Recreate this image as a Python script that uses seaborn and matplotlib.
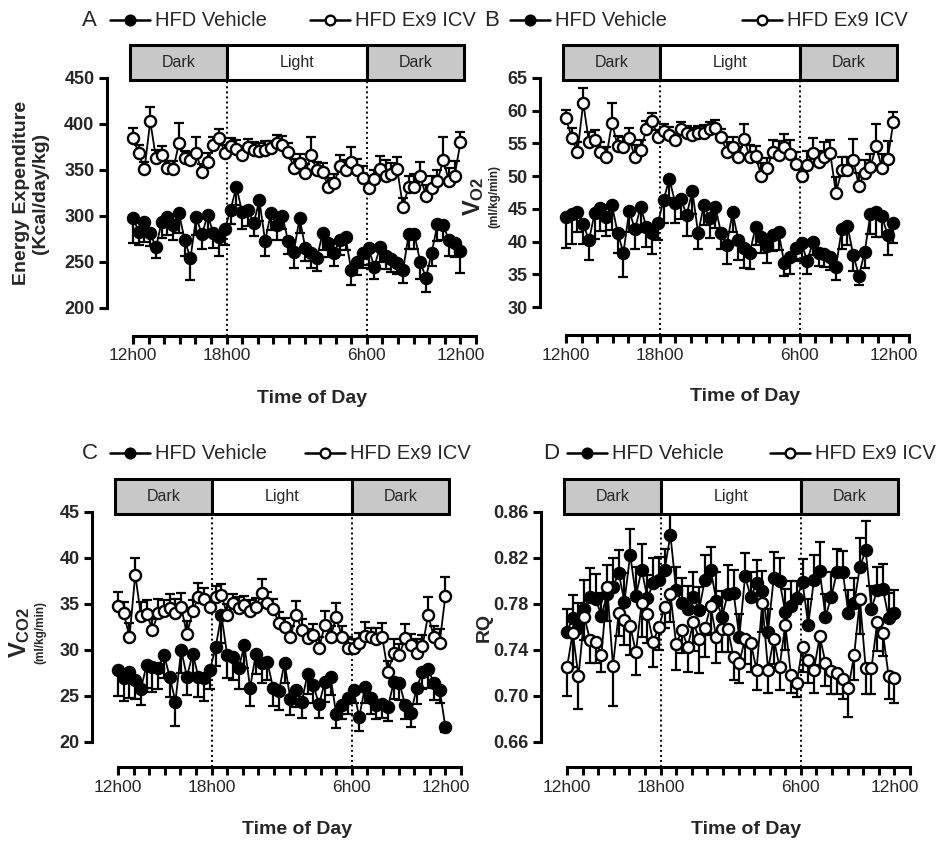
import matplotlib
matplotlib.use("Agg")
import matplotlib.pyplot as plt
from matplotlib.lines import Line2D
from matplotlib.patches import Rectangle
import numpy as np
import seaborn as sns

# ---- data (58 samples per series) ----
N_SAMPLES = 58
HOUR_LABELS = {0: "12h00", 6: "18h00", 15: "6h00", 21: "12h00"}

ee_vehicle = [298, 283, 294, 281, 266, 294, 299, 290, 303, 274,
              254, 299, 280, 301, 281, 277, 286, 307, 332, 304,
              307, 292, 317, 273, 303, 290, 300, 273, 261, 298,
              265, 260, 254, 281, 271, 260, 274, 277, 241, 250,
              260, 265, 245, 266, 256, 253, 249, 241, 280, 280,
              250, 233, 260, 291, 290, 274, 271, 262]
ee_vehicle_sem = [27, 15, 22, 14, 12, 18, 20, 16, 22, 18,
                  24, 20, 16, 22, 16, 20, 18, 16, 20, 18,
                  18, 14, 22, 16, 18, 16, 14, 14, 18, 16,
                  14, 16, 14, 18, 16, 14, 16, 14, 16, 14,
                  16, 18, 14, 16, 14, 14, 12, 14, 16, 16,
                  18, 16, 14, 18, 16, 18, 16, 24]
ee_ex9 = [385, 368, 351, 403, 363, 366, 352, 351, 379, 363,
          361, 368, 348, 359, 377, 385, 369, 376, 373, 366,
          375, 372, 371, 372, 374, 379, 377, 370, 352, 358,
          347, 366, 350, 348, 332, 336, 354, 350, 359, 350,
          341, 330, 340, 351, 343, 346, 351, 310, 332, 332,
          343, 322, 330, 338, 361, 338, 344, 380]
ee_ex9_sem = [11, 9, 8, 15, 9, 10, 8, 9, 22, 8,
              9, 18, 8, 10, 9, 10, 8, 9, 10, 8,
              9, 8, 8, 9, 8, 9, 10, 9, 10, 9,
              10, 20, 9, 10, 9, 10, 12, 11, 16, 12,
              13, 9, 10, 14, 18, 12, 13, 10, 12, 14,
              16, 12, 14, 12, 25, 14, 16, 11]

vo2_vehicle = [43.8, 44.2, 44.5, 42.7, 40.2, 44.4, 45.1, 43.8, 45.6, 41.3,
               38.3, 44.7, 41.9, 45.3, 42.2, 41.3, 42.8, 46.4, 49.6, 45.9,
               46.5, 44.1, 47.7, 41.3, 45.6, 43.6, 45.3, 41.3, 39.5, 44.5,
               40.2, 39.0, 38.3, 42.2, 40.7, 39.3, 41.0, 41.5, 36.7, 37.6,
               39.0, 39.8, 37.0, 40.0, 38.3, 38.1, 37.6, 36.1, 41.9, 42.4,
               38.0, 34.8, 38.4, 44.2, 44.5, 43.9, 41.0, 42.8]
vo2_vehicle_sem = [4.8, 4.5, 3.0, 3.0, 3.0, 4.0, 3.5, 3.0, 3.8, 3.0,
                   3.7, 3.2, 3.0, 3.8, 3.0, 3.2, 2.5, 3.5, 3.0, 3.0,
                   3.0, 3.2, 3.5, 2.5, 3.0, 3.0, 3.2, 2.5, 3.0, 3.0,
                   3.0, 3.0, 2.5, 2.8, 2.5, 2.5, 2.5, 2.8, 2.0, 2.5,
                   2.0, 2.5, 2.0, 2.0, 2.0, 2.0, 2.0, 2.0, 3.0, 3.0,
                   2.5, 1.5, 2.5, 3.0, 3.8, 3.2, 3.0, 3.0]
vo2_ex9 = [58.9, 55.8, 53.7, 61.2, 55.2, 55.5, 53.7, 52.9, 58.1, 54.6,
           54.5, 55.8, 52.9, 54.0, 57.2, 58.4, 56.0, 56.9, 56.3, 55.5,
           57.2, 56.6, 56.3, 56.6, 56.6, 57.2, 57.4, 56.0, 53.7, 54.5,
           52.9, 55.7, 52.9, 53.1, 50.0, 51.2, 53.7, 53.2, 54.5, 53.4,
           51.9, 50.0, 51.7, 53.5, 52.1, 52.9, 53.5, 47.4, 50.9, 50.9,
           52.5, 48.5, 50.5, 51.4, 54.6, 51.2, 52.6, 58.3]
vo2_ex9_sem = [1.2, 1.5, 1.5, 2.3, 1.5, 1.5, 1.5, 1.5, 3.1, 1.5,
               1.5, 1.5, 1.8, 1.5, 1.2, 1.2, 1.0, 1.0, 1.2, 1.0,
               1.0, 1.0, 1.0, 1.0, 1.2, 1.0, 1.2, 1.2, 1.5, 1.5,
               1.5, 2.3, 1.8, 1.5, 2.0, 1.5, 1.8, 2.2, 2.0, 2.2,
               1.8, 1.8, 2.2, 2.3, 1.8, 2.3, 2.0, 2.5, 2.0, 2.0,
               3.2, 2.0, 2.0, 2.0, 3.3, 2.2, 2.8, 1.5]

vco2_vehicle = [27.8, 27.0, 27.6, 26.7, 25.8, 28.4, 28.2, 28.0, 29.5, 27.1,
                24.4, 30.0, 27.1, 29.6, 27.1, 27.0, 27.8, 30.3, 33.8, 29.5,
                29.2, 28.0, 30.5, 25.9, 29.6, 28.6, 28.7, 25.9, 25.5, 28.6,
                24.7, 25.6, 24.4, 27.4, 26.2, 24.1, 26.5, 27.1, 23.0, 24.0,
                24.8, 25.7, 22.7, 26.0, 24.8, 24.0, 24.1, 23.8, 26.5, 26.4,
                24.0, 23.1, 25.9, 27.6, 27.9, 26.4, 25.7, 21.6]
vco2_vehicle_sem = [2.8, 2.5, 2.8, 2.0, 1.8, 2.5, 2.8, 2.2, 2.5, 2.2,
                    2.7, 2.5, 2.0, 2.5, 2.2, 2.5, 2.0, 2.0, 3.0, 2.5,
                    2.5, 2.2, 2.5, 2.0, 2.2, 2.2, 2.0, 2.0, 2.0, 2.2,
                    1.8, 1.8, 1.8, 2.2, 2.0, 1.5, 2.2, 2.0, 1.5, 1.5,
                    1.8, 1.5, 1.5, 1.8, 1.8, 1.5, 1.5, 1.5, 1.8, 1.8,
                    1.5, 1.5, 1.8, 1.8, 2.0, 1.8, 1.5, 0.5]
vco2_ex9 = [34.8, 34.0, 31.4, 38.2, 33.7, 33.9, 32.2, 34.0, 34.2, 34.6,
            34.0, 34.7, 31.7, 34.2, 35.8, 35.5, 34.7, 35.8, 36.0, 33.8,
            35.1, 34.6, 34.9, 34.2, 34.7, 36.2, 35.1, 34.5, 32.9, 32.5,
            31.4, 33.8, 32.2, 31.3, 31.6, 30.2, 32.7, 31.4, 33.6, 31.4,
            30.2, 30.2, 30.8, 31.5, 31.4, 31.2, 31.4, 27.6, 29.7, 29.5,
            31.3, 30.5, 29.7, 30.4, 33.8, 31.4, 30.8, 35.9]
vco2_ex9_sem = [1.5, 1.2, 1.5, 1.8, 1.5, 1.5, 1.2, 1.5, 1.2, 1.5,
                1.5, 1.5, 1.5, 1.2, 1.5, 1.2, 1.0, 1.2, 1.2, 1.2,
                1.0, 1.2, 1.0, 1.2, 1.0, 1.5, 1.2, 1.0, 1.2, 1.0,
                1.2, 1.5, 1.2, 1.0, 1.2, 1.2, 1.5, 1.2, 1.5, 1.2,
                1.2, 1.0, 1.0, 1.5, 1.0, 1.2, 1.5, 1.2, 1.5, 1.2,
                1.5, 1.2, 1.5, 1.2, 2.0, 1.2, 1.5, 2.0]

rq_vehicle = [0.756, 0.768, 0.759, 0.776, 0.786, 0.784, 0.770, 0.789, 0.795, 0.807,
              0.782, 0.823, 0.787, 0.810, 0.785, 0.798, 0.801, 0.810, 0.840, 0.792,
              0.781, 0.776, 0.786, 0.775, 0.801, 0.810, 0.783, 0.769, 0.789, 0.790,
              0.751, 0.804, 0.786, 0.798, 0.791, 0.756, 0.803, 0.800, 0.773, 0.778,
              0.785, 0.799, 0.762, 0.801, 0.809, 0.769, 0.786, 0.808, 0.808, 0.772,
              0.781, 0.812, 0.827, 0.776, 0.792, 0.793, 0.768, 0.772]
rq_vehicle_sem = [0.020, 0.020, 0.022, 0.025, 0.025, 0.022, 0.020, 0.025, 0.025, 0.020,
                  0.025, 0.022, 0.025, 0.022, 0.020, 0.022, 0.020, 0.018, 0.035, 0.020,
                  0.022, 0.020, 0.022, 0.020, 0.022, 0.020, 0.025, 0.022, 0.025, 0.020,
                  0.020, 0.020, 0.022, 0.020, 0.018, 0.020, 0.022, 0.020, 0.020, 0.022,
                  0.015, 0.020, 0.022, 0.022, 0.025, 0.020, 0.022, 0.020, 0.018, 0.020,
                  0.022, 0.025, 0.025, 0.020, 0.020, 0.022, 0.022, 0.020]
rq_ex9 = [0.725, 0.755, 0.717, 0.769, 0.749, 0.747, 0.736, 0.795, 0.726, 0.772,
          0.766, 0.761, 0.738, 0.781, 0.771, 0.747, 0.760, 0.777, 0.789, 0.745,
          0.757, 0.743, 0.764, 0.750, 0.759, 0.778, 0.751, 0.758, 0.758, 0.734,
          0.729, 0.750, 0.746, 0.723, 0.781, 0.723, 0.750, 0.725, 0.762, 0.718,
          0.711, 0.743, 0.731, 0.723, 0.752, 0.729, 0.722, 0.720, 0.715, 0.707,
          0.736, 0.784, 0.724, 0.724, 0.764, 0.755, 0.717, 0.716]
rq_ex9_sem = [0.025, 0.030, 0.028, 0.020, 0.020, 0.018, 0.015, 0.030, 0.035, 0.020,
              0.022, 0.025, 0.020, 0.030, 0.025, 0.022, 0.020, 0.018, 0.025, 0.022,
              0.020, 0.022, 0.025, 0.030, 0.025, 0.025, 0.022, 0.020, 0.020, 0.020,
              0.018, 0.022, 0.025, 0.018, 0.025, 0.020, 0.022, 0.020, 0.022, 0.015,
              0.012, 0.022, 0.020, 0.020, 0.025, 0.020, 0.020, 0.018, 0.018, 0.025,
              0.022, 0.030, 0.022, 0.022, 0.025, 0.020, 0.020, 0.022]

# ---- layout (figure pixels, origin top-left) ----
W, H = 942, 843
AX_W = 343          # 22 hour-ticks
GRAY = "#c8c8c8"


def rect(left, top, right, bottom):
    return [left / W, 1 - bottom / H, (right - left) / W, (bottom - top) / H]


def fy(y):
    return 1 - y / H


PANELS = [
    dict(letter="A", left=133, top=78, bottom=308, drop=28, legend=(82, 110, 310, 20),
         veh=ee_vehicle, veh_sem=ee_vehicle_sem, ex9=ee_ex9, ex9_sem=ee_ex9_sem,
         ylim=(200, 450), yticks=np.arange(200, 451, 50), yfmt="{:.0f}", veh_up=False),
    dict(letter="B", left=566, top=78, bottom=307, drop=28, legend=(484, 510, 742, 20),
         veh=vo2_vehicle, veh_sem=vo2_vehicle_sem, ex9=vo2_ex9, ex9_sem=vo2_ex9_sem,
         ylim=(30, 65), yticks=np.arange(30, 66, 5), yfmt="{:.0f}", veh_up=False),
    dict(letter="C", left=118, top=512, bottom=742, drop=25, legend=(82, 110, 305, 453),
         veh=vco2_vehicle, veh_sem=vco2_vehicle_sem, ex9=vco2_ex9, ex9_sem=vco2_ex9_sem,
         ylim=(20, 45), yticks=np.arange(20, 46, 5), yfmt="{:.0f}", veh_up=False),
    dict(letter="D", left=567, top=512, bottom=742, drop=25, legend=(543, 567, 770, 453),
         veh=rq_vehicle, veh_sem=rq_vehicle_sem, ex9=rq_ex9, ex9_sem=rq_ex9_sem,
         ylim=(0.66, 0.86), yticks=np.arange(0.66, 0.861, 0.04), yfmt="{:.2f}", veh_up=True),
]

sns.set_style("ticks")
plt.rcParams["font.family"] = ["Liberation Sans", "DejaVu Sans"]
plt.rcParams["mathtext.fontset"] = "custom"
plt.rcParams["mathtext.rm"] = "Liberation Sans:bold"
plt.rcParams["mathtext.bf"] = "Liberation Sans:bold"
plt.rcParams["mathtext.it"] = "Liberation Sans:bold"

fig = plt.figure(figsize=(W / 100, H / 100), dpi=100)
x = np.arange(N_SAMPLES) * 21 / (N_SAMPLES - 1)


def draw_series(ax, y, sem, filled, up):
    y = np.asarray(y)
    sem = np.asarray(sem)
    zeros = np.zeros_like(sem)
    yerr = [zeros, sem] if up else [sem, zeros]
    _, caps, bars = ax.errorbar(x, y, yerr=yerr, fmt="none", ecolor="black",
                                elinewidth=1.6, capsize=3.6, capthick=1.6, zorder=2)
    for art in list(caps) + list(bars):
        art.set_clip_on(False)
    sns.lineplot(x=x, y=y, ax=ax, color="black", lw=1.3, marker="o", markersize=8,
                 markerfacecolor="black" if filled else "white",
                 markeredgecolor="black", markeredgewidth=1.7,
                 zorder=3 if filled else 4, clip_on=False)


def legend_entry(x_px, y_px, filled, label):
    fig.add_artist(Line2D([x_px / W, (x_px + 40) / W], [fy(y_px)] * 2,
                          transform=fig.transFigure, color="black", lw=1.8))
    fig.add_artist(Line2D([(x_px + 20) / W], [fy(y_px)], transform=fig.transFigure,
                          marker="o", ms=7, mfc="black" if filled else "white",
                          mec="black", mew=1.7))
    fig.text((x_px + 45) / W, fy(y_px), label, fontsize=14.5, ha="left", va="center")


for p in PANELS:
    left, top, bottom = p["left"], p["top"], p["bottom"]
    right = left + AX_W
    ax = fig.add_axes(rect(left, top, right, bottom))
    ax.set_xlim(0, 22)
    ax.set_ylim(*p["ylim"])

    draw_series(ax, p["veh"], p["veh_sem"], True, p["veh_up"])
    draw_series(ax, p["ex9"], p["ex9_sem"], False, not p["veh_up"])

    # GraphPad-style detached axes
    sns.despine(ax=ax)
    ax.spines["left"].set_position(("outward", 26 * 0.72))
    ax.spines["bottom"].set_position(("outward", p["drop"] * 0.72))
    ax.spines["left"].set_bounds(*p["ylim"])
    ax.spines["bottom"].set_bounds(0, 22)
    for s in ("left", "bottom"):
        ax.spines[s].set_linewidth(2.2)
        ax.spines[s].set_color("black")

    ax.set_xticks(np.arange(23))
    ax.set_xticklabels([HOUR_LABELS.get(i, "") for i in range(23)], fontsize=12.5)
    ax.set_yticks(p["yticks"])
    ax.set_yticklabels([p["yfmt"].format(v) for v in p["yticks"]],
                       fontsize=13, fontweight="bold")
    ax.tick_params(axis="both", direction="out", length=6, width=2.2, color="black", pad=3)
    ax.set_xlabel("")
    ax.set_ylabel("")

    h = bottom - top
    for xv in (6, 15):
        ax.axvline(xv, ymin=-p["drop"] / h, ymax=1, color="black", lw=1.4,
                   ls=(0, (1, 1.6)), clip_on=False, zorder=1)

    # light / dark phase bar
    bar = fig.add_axes(rect(left, top - 33, right, top + 2))
    bar.set_xlim(0, 22)
    bar.set_ylim(0, 1)
    bar.axis("off")
    for x0, x1, fc, txt in ((-0.2, 6, GRAY, "Dark"), (6, 15, "white", "Light"),
                            (15, 21.2, GRAY, "Dark")):
        bar.add_patch(Rectangle((x0, 0), x1 - x0, 1, facecolor=fc, edgecolor="black",
                                lw=2.2, clip_on=False))
        bar.text((x0 + x1) / 2, 0.5, txt, ha="center", va="center", fontsize=11.5)

    fig.text((left + 179) / W, fy(bottom + p["drop"] + 62), "Time of Day",
             ha="center", va="center", fontsize=14, fontweight="bold")

    # panel letter and legend
    lx, e1, e2, ly = p["legend"]
    fig.text(lx / W, fy(ly), p["letter"], fontsize=16, ha="left", va="center")
    legend_entry(e1, ly, True, "HFD Vehicle")
    legend_entry(e2, ly, False, "HFD Ex9 ICV")

# y-axis titles
fig.text(31 / W, fy(193), "Energy Expenditure\n(Kcal/day/kg)", rotation=90,
         ha="center", va="center", fontsize=14, fontweight="bold", linespacing=1.15)
fig.text(474 / W, fy(196), r"$\mathbf{V}_{\mathbf{O2}}$", rotation=90,
         ha="center", va="center", fontsize=17)
fig.text(494 / W, fy(196), "(ml/kg/min)", rotation=90, ha="center", va="center",
         fontsize=8.5, fontweight="bold")
fig.text(20 / W, fy(632), r"$\mathbf{V}_{\mathbf{CO2}}$", rotation=90,
         ha="center", va="center", fontsize=17)
fig.text(40 / W, fy(632), "(ml/kg/min)", rotation=90, ha="center", va="center",
         fontsize=8.5, fontweight="bold")
fig.text(484 / W, fy(627), "RQ", rotation=90, ha="center", va="center",
         fontsize=14, fontweight="bold")

fig.savefig("out.png", dpi=100)
